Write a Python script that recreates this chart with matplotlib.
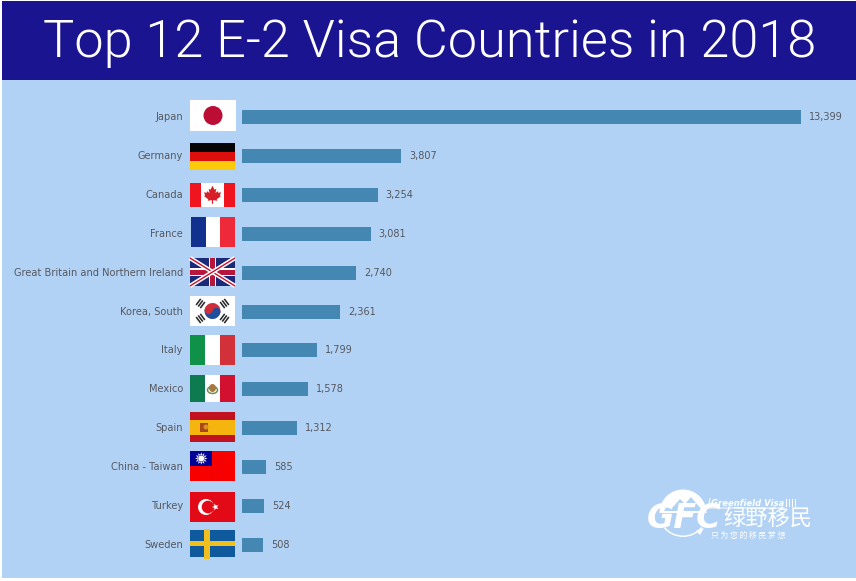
import numpy as np
import matplotlib
matplotlib.use("Agg")
import matplotlib.pyplot as plt
from matplotlib.patches import Rectangle, Circle, Polygon, Wedge, Ellipse
from matplotlib.transforms import ScaledTranslation

plt.rcParams['font.family'] = ['Roboto', 'DejaVu Sans']

countries = ["Japan", "Germany", "Canada", "France", "Great Britain and Northern Ireland",
             "Korea, South", "Italy", "Mexico", "Spain", "China - Taiwan", "Turkey", "Sweden"]
visas = [13399, 3807, 3254, 3081, 2740, 2361, 1799, 1578, 1312, 585, 524, 508]
title = "Top 12 E-2 Visa Countries in 2018"

W, H = 856, 581
HEADER = "#1a1491"
PANEL = "#b2d2f5"
BAR = "#4487b3"
LABEL = "#55585f"

fig = plt.figure(figsize=(W / 100, H / 100), dpi=100, facecolor="white")

# Page furniture and flags are laid out on a canvas measured in pixels
page = fig.add_axes([0, 0, 1, 1], zorder=0)
page.set_xlim(0, W)
page.set_ylim(H, 0)
page.axis("off")
page.add_patch(Rectangle((2, 1), W - 2, 79, color=HEADER, lw=0))
page.add_patch(Rectangle((2, 80), W - 2, 498, color=PANEL, lw=0))
page.text(430, 43.5, title, color="white", fontsize=37.6, ha="center", va="center",
          family="Roboto", fontweight=300)

# Bar chart
x0, x1 = 242, 801
row_h = 38.9
top = 117 - row_h / 2
ax = fig.add_axes([x0 / W, 1 - (top + 12 * row_h) / H, (x1 - x0) / W, 12 * row_h / H],
                  zorder=2)
ax.patch.set_alpha(0)
y = np.arange(len(countries))
bars = ax.barh(y, visas, height=14 / row_h, color=BAR, lw=0)
ax.set_xlim(0, max(visas))
ax.set_ylim(len(countries) - 0.5, -0.5)
ax.set_yticks(y, countries, fontsize=7.1, color=LABEL, family="DejaVu Sans")
ax.tick_params(axis="y", length=0, pad=42.5)
nudge = ScaledTranslation(0, 1 / 100, fig.dpi_scale_trans)
for lab in ax.get_yticklabels():
    lab.set_transform(lab.get_transform() + nudge)
ax.xaxis.set_visible(False)
for s in ax.spines.values():
    s.set_visible(False)
ax.bar_label(bars, labels=[f"{v:,}" for v in visas], padding=5.8, fontsize=7,
             color=LABEL, family="DejaVu Sans", clip_on=False)


def rect(x, y, w, h, c):
    p = Rectangle((x, y), w, h, color=c, lw=0)
    page.add_patch(p)
    return p


def star_points(cx, cy, r_out, r_in, n=5, rot=-90):
    a = np.deg2rad(rot + np.arange(2 * n) * 180 / n)
    r = np.where(np.arange(2 * n) % 2 == 0, r_out, r_in)
    return np.column_stack([cx + r * np.cos(a), cy + r * np.sin(a)])


def tricolor(x, y, w, h, cols):
    for i, c in enumerate(cols):
        rect(x + i * w / 3, y, w / 3 + 0.2, h, c)


def japan(x, y, w, h):
    rect(x, y, w, h, "white")
    page.add_patch(Circle((x + w / 2, y + h / 2), 9.5, color="#bc0d35", lw=0))


def germany(x, y, w, h):
    for i, c in enumerate(["#050505", "#dc0f0c", "#fbcb0a"]):
        rect(x, y + i * h / 3, w, h / 3 + 0.2, c)


def canada(x, y, w, h):
    rect(x, y, w, h, "#f0141e")
    rect(x + w / 4, y, w / 2, h, "white")
    cx, cy = x + w / 2, y + h / 2
    leaf = np.array([(0, -9), (2, -5), (3.8, -6), (3, -1.5), (5, -3.6), (5.8, -2), (8.5, -2.4),
                     (7.4, 0.6), (8.4, 1.4), (4.2, 4.6), (4.8, 6), (0.6, 5.4), (0.6, 9), (-0.6, 9),
                     (-0.6, 5.4), (-4.8, 6), (-4.2, 4.6), (-8.4, 1.4), (-7.4, 0.6), (-8.5, -2.4),
                     (-5.8, -2), (-5, -3.6), (-3, -1.5), (-3.8, -6), (-2, -5)])
    page.add_patch(Polygon(leaf + (cx, cy), color="#d81e26", lw=0))


def britain(x, y, w, h):
    rect(x, y, w, h, "#1a2a78")
    clip = Rectangle((x, y), w, h, transform=page.transData)
    for (a, b), (c, d) in [((x, y), (x + w, y + h)), ((x, y + h), (x + w, y))]:
        page.plot([a, c], [b, d], color="white", lw=3.2, solid_capstyle="butt", clip_path=clip)
        page.plot([a, c], [b, d], color="#c8102e", lw=1.0, solid_capstyle="butt", clip_path=clip)
    rect(x + w / 2 - 3.8, y, 7.6, h, "white")
    rect(x, y + h / 2 - 3.8, w, 7.6, "white")
    rect(x + w / 2 - 2.5, y, 5, h, "#b8163a")
    rect(x, y + h / 2 - 2.5, w, 5, "#b8163a")


def korea(x, y, w, h):
    rect(x, y, w, h, "white")
    cx, cy = x + w / 2, y + h / 2
    r = 8
    tilt = 12
    page.add_patch(Wedge((cx, cy), r, 180 + tilt, tilt, color="#cd2e3a", lw=0))
    page.add_patch(Wedge((cx, cy), r, tilt, 180 + tilt, color="#1f4f9c", lw=0))
    d = np.array([np.cos(np.deg2rad(tilt)), np.sin(np.deg2rad(tilt))]) * r / 2
    page.add_patch(Circle((cx + d[0], cy + d[1]), r / 2, color="#1f4f9c", lw=0))
    page.add_patch(Circle((cx - d[0], cy - d[1]), r / 2, color="#cd2e3a", lw=0))
    for sx, sy in [(-1, -1), (1, -1), (-1, 1), (1, 1)]:
        for k in (-2.6, 0, 2.6):
            c = np.array([cx + sx * 12, cy + sy * 7.5]) + k * np.array([sx * 0.8, sy * 0.6])
            v = 3.8 * np.array([sy * 0.6, -sx * 0.8])
            page.plot([c[0] - v[0], c[0] + v[0]], [c[1] - v[1], c[1] + v[1]],
                      color="#2a2a2a", lw=1.15, solid_capstyle="butt")


def mexico(x, y, w, h):
    tricolor(x, y, w, h, ["#0d7a50", "white", "#d2102f"])
    cx, cy = x + w / 2, y + h / 2
    page.add_patch(Ellipse((cx, cy + 1.5), 10, 7, fc="none", ec="#6d8f55", lw=1.1))
    page.add_patch(Ellipse((cx, cy - 0.5), 7, 8, color="#a8793e", lw=0))


def spain(x, y, w, h):
    rect(x, y, w, h, "#c1121f")
    rect(x, y + h / 4, w, h / 2, "#f6b40e")
    page.add_patch(Rectangle((x + 10.5, y + h / 2 - 4.5), 8, 9, color="#a8471c", lw=0))
    page.add_patch(Circle((x + 16, y + h / 2), 2.5, color="#d8902a", lw=0))


def taiwan(x, y, w, h):
    rect(x, y, w, h, "#f90000")
    rect(x, y, w / 2, h / 2, "#000095")
    cx, cy = x + w / 4, y + h / 4
    page.add_patch(Polygon(star_points(cx, cy, 6.2, 3.6, n=12), color="white", lw=0))
    page.add_patch(Circle((cx, cy), 3.3, fc="white", ec="#000095", lw=0.4))


def turkey(x, y, w, h):
    rect(x, y, w, h, "#e30a17")
    cy = y + h / 2
    page.add_patch(Circle((x + 16, cy), 8, color="white", lw=0))
    page.add_patch(Circle((x + 18, cy), 6.3, color="#e30a17", lw=0))
    page.add_patch(Polygon(star_points(x + 25.5, cy, 3.6, 1.5, rot=180), color="white", lw=0))


def sweden(x, y, w, h):
    rect(x, y, w, h, "#0f5a9c")
    rect(x, y + h / 2 - 2.6, w, 5.2, "#f2c01e")
    rect(x + 14, y - 1.5, 6, h + 3, "#f2c01e")


flags = [
    (japan, 190, 100, 46, 31),
    (germany, 190, 143, 45, 27),
    (canada, 190, 183, 45, 23.5),
    (lambda *a: tricolor(*a, ["#12308d", "white", "#ee2a3a"]), 191, 217, 44, 30),
    (britain, 190, 258, 45, 28),
    (korea, 190, 296, 45, 30),
    (lambda *a: tricolor(*a, ["#0f9149", "white", "#d3313a"]), 190, 335, 45, 30),
    (mexico, 190, 375, 45, 27),
    (spain, 190, 412, 45, 30),
    (taiwan, 190, 451, 45, 30),
    (turkey, 190, 492, 45, 30),
    (sweden, 190, 530, 45, 27),
]
for draw, fx, fy, fw, fh in flags:
    draw(fx, fy, fw, fh)


# Greenfield Visa mark, lower right
def logo():
    page.add_patch(Wedge((683, 513), 23.5, 180, 360, fc="white", lw=0))
    sky = [(664, 511), (668, 504), (673, 507), (680, 499), (685, 504), (691, 497), (696, 503),
           (703, 511)]
    page.add_patch(Polygon(sky, color=PANEL, lw=0))
    page.add_patch(Wedge((683, 512), 25, 40, 140, width=1.5, color="white", lw=0))
    page.add_patch(Polygon([(696, 531), (704, 528), (700, 535)], color="white", lw=0))
    page.plot([710, 708, 784], [498.5, 508, 508], color="white", lw=0.7)
    for sx in (786, 789, 792, 795):
        rect(sx, 499, 1.2, 8, "white")
    page.text(748, 503, "Greenfield Visa", color="white", fontsize=6.1, fontweight="bold",
              style="italic", ha="center", va="center", family="DejaVu Sans")
    page.text(684.5, 519, "GFC", color="white", fontsize=24, fontweight="bold", style="italic",
              ha="center", va="center", family="DejaVu Sans")
    page.add_patch(Polygon(star_points(711, 518.5, 3.4, 1.4), color=PANEL, lw=0))
    page.text(767.5, 519, "绿野移民", color="white", fontsize=16, ha="center", va="center",
              family="Noto Sans CJK SC")
    page.text(748, 535.5, "只 为 您 的 移 民 梦 想", color="white", fontsize=5.6, ha="center",
              va="center", family="Noto Sans CJK SC")


logo()

fig.savefig("out.png", dpi=100, facecolor="white")
